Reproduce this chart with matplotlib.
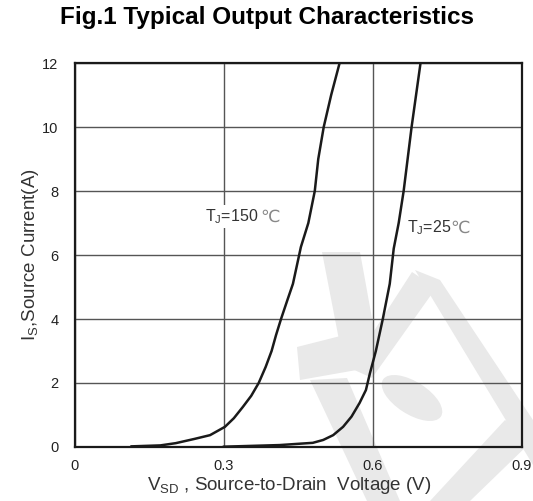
import numpy as np
import matplotlib
matplotlib.use('Agg')
import matplotlib.pyplot as plt
from matplotlib.patches import Polygon, Ellipse

plt.rcParams['font.family'] = ['Liberation Sans', 'DejaVu Sans']
plt.rcParams['mathtext.fontset'] = 'custom'
plt.rcParams['mathtext.rm'] = 'Liberation Sans'
plt.rcParams['mathtext.it'] = 'Liberation Sans'

# data
v_150 = [0.114, 0.172, 0.203, 0.240, 0.272, 0.302, 0.320, 0.338, 0.355, 0.370,
         0.384, 0.396, 0.405, 0.415, 0.428, 0.439, 0.455, 0.470, 0.483, 0.490,
         0.501, 0.516, 0.533]
i_150 = [0.02, 0.05, 0.12, 0.25, 0.37, 0.63, 0.90, 1.25, 1.60, 2.0,
         2.5, 3.0, 3.5, 4.0, 4.6, 5.1, 6.25, 7.0, 8.0, 9.0,
         10.0, 11.0, 12.0]
v_25 = [0.300, 0.412, 0.479, 0.500, 0.520, 0.540, 0.557, 0.573, 0.586, 0.594,
        0.606, 0.620, 0.634, 0.642, 0.652, 0.662, 0.670, 0.678, 0.687, 0.696]
i_25 = [0.01, 0.06, 0.13, 0.22, 0.37, 0.63, 0.95, 1.37, 1.78, 2.3,
        3.0, 4.0, 5.1, 6.2, 7.0, 8.0, 9.0, 10.0, 11.0, 12.0]

x_ticks = [0, 0.3, 0.6, 0.9]
x_tick_labels = ['0', '0.3', '0.6', '0.9']
y_ticks = [0, 2, 4, 6, 8, 10, 12]

fig = plt.figure(figsize=(5.33, 5.01), dpi=100)
ax = fig.add_axes([0.1407, 0.1078, 0.8383, 0.7664])

# faint watermark behind everything (figure pixel coords, y from top)
W, H = 533.0, 501.0
wm = '#e9e9e9'
def fp(pts):
    return [(x / W, 1 - y / H) for x, y in pts]
shapes = [
    [(322, 252), (360, 252), (375, 335), (340, 345)],
    [(297, 347), (372, 328), (368, 368), (300, 380)],
    [(310, 380), (347, 378), (400, 501), (367, 501)],
    [(412, 272), (436, 288), (372, 378), (350, 368)],
    [(415, 270), (440, 280), (533, 420), (533, 465)],
    [(505, 420), (533, 440), (470, 501), (430, 501)],
]
for s in shapes:
    fig.patches.append(Polygon(fp(s), closed=True, transform=fig.transFigure,
                               facecolor=wm, edgecolor='none', zorder=-5))
fig.patches.append(Ellipse((412 / W, 1 - 398 / H), 70 / W, 32 / H, angle=-35,
                           transform=fig.transFigure, facecolor=wm,
                           edgecolor='none', zorder=-5))
ax.set_facecolor('none')

ax.plot(v_150, i_150, color='#1a1a1a', lw=1.8, zorder=3)
ax.plot(v_25, i_25, color='#1a1a1a', lw=1.8, zorder=3)

ax.set_xlim(0, 0.9)
ax.set_ylim(0, 12)
ax.set_xticks(x_ticks)
ax.set_xticklabels(x_tick_labels)
ax.set_yticks(y_ticks)
ax.tick_params(length=0, labelsize=10.5, colors='#222222')
ax.tick_params(axis='x', pad=9)
ax.tick_params(axis='y', pad=12)
ax.grid(True, color='#555555', lw=1.0, zorder=1)
for sp in ax.spines.values():
    sp.set_linewidth(1.6)
    sp.set_color('#1a1a1a')

ax.set_xlabel(r'V$_{\mathrm{SD}}$ , Source-to-Drain  Voltage (V)', fontsize=13.5,
              color='#333333', labelpad=1, x=0.48)
ax.set_ylabel(r'I$_{\mathrm{S}}$,Source Current(A)', fontsize=13.5,
              color='#333333', labelpad=1)

box = dict(facecolor='white', edgecolor='none', pad=1.5)
ax.text(0.262, 7.2, r'T$_{\mathrm{J}}$=150', fontsize=11.5, color='#333333',
        va='center', zorder=4, bbox=box)
ax.text(0.374, 7.2, '℃', fontsize=12.5, color='#888888', va='center', zorder=5,
        family=['DejaVu Sans', 'Noto Sans CJK SC'])
ax.text(0.668, 6.84, r'T$_{\mathrm{J}}$=25', fontsize=11.5, color='#333333',
        va='center', zorder=4)
ax.text(0.757, 6.84, '℃', fontsize=12.5, color='#888888', va='center', zorder=4,
        family=['DejaVu Sans', 'Noto Sans CJK SC'])

fig.suptitle('Fig.1 Typical Output Characteristics', fontsize=17.5,
             fontweight='bold', x=0.5, y=0.988, va='top')

fig.savefig('out.png', dpi=100)
